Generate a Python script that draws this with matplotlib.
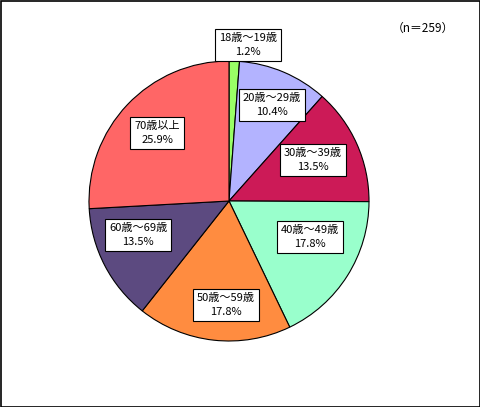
import matplotlib
matplotlib.use("Agg")
import matplotlib.pyplot as plt
from matplotlib.patches import Rectangle

plt.rcParams['font.family'] = ['Noto Sans CJK JP', 'DejaVu Sans']

categories = ["18歳～19歳", "20歳～29歳", "30歳～39歳", "40歳～49歳", "50歳～59歳", "60歳～69歳", "70歳以上"]
values = [1.2, 10.4, 13.5, 17.8, 17.8, 13.5, 25.9]
colors = ["#99FF66", "#B3B3FF", "#CC1A57", "#99FFCC", "#FF8C40", "#5C4A80", "#FF6666"]
label_pos = [(248, 45), (272, 105), (313, 160), (310, 237), (226, 305), (138, 235), (157, 133)]
n_text = "（n＝259）"

W, H = 480, 407
fig = plt.figure(figsize=(4.8, 4.07), dpi=100)
ax = fig.add_axes([0, 0, 1, 1])
ax.set_xlim(0, W)
ax.set_ylim(0, H)
ax.set_aspect('equal')
ax.axis('off')

ax.pie(values, colors=colors, startangle=90, counterclock=False,
       center=(229, H - 201), radius=140,
       wedgeprops=dict(edgecolor='black', linewidth=0.8))
ax.set_xlim(0, W)
ax.set_ylim(0, H)

for cat, v, (x, y) in zip(categories, values, label_pos):
    ax.text(x, H - y, f"{cat}\n{v:.1f}%", ha='center', va='center', fontsize=8,
            linespacing=1.5,
            bbox=dict(boxstyle='square,pad=0.35', fc='white', ec='black', lw=0.8))

ax.text(423, H - 28, n_text, ha='center', va='center', fontsize=8.5)
ax.add_patch(Rectangle((0.5, 0.5), W - 1, H - 1, fill=False, ec='black', lw=1.2))

fig.savefig("out.png", dpi=100)
